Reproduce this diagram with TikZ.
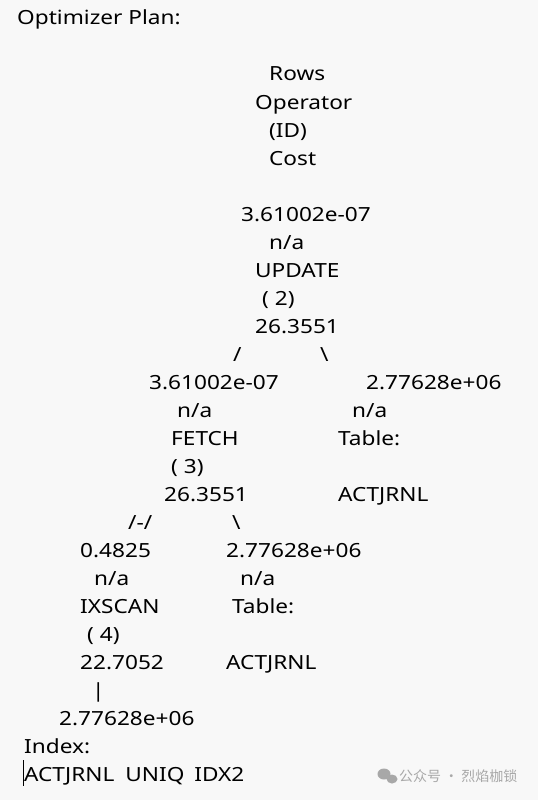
\documentclass[tikz,border=0pt]{standalone}
\usepackage{fontspec}
\setmainfont{Noto Sans}[FakeStretch=1.16]
\newfontfamily\cjk{Noto Sans CJK SC}
\definecolor{bgc}{HTML}{F8F8F8}
\definecolor{wm}{HTML}{A8A8A8}
\begin{document}
\begin{tikzpicture}[x=1pt,y=-1pt,
  t/.style={anchor=base west,inner sep=0pt,font=\fontsize{19.5}{22}\selectfont},
  wmt/.style={anchor=base west,inner sep=0pt,text=wm,font=\cjk\fontsize{14}{16}\selectfont}]
\fill[bgc] (0,0) rectangle (538,800);
\useasboundingbox (0,0) rectangle (538,800);
\node[t] (title) at (17,25) {Optimizer Plan:};
\node[t] (h1) at (269,81) {Rows};
\node[t] (h2) at (255,109) {Operator};
\node[t] (h3) at (269,137) {(ID)};
\node[t] (h4) at (269,165) {Cost};
\node[t] (u1) at (241,221) {3.61002e-07};
\node[t] (u2) at (269,249) {n/a};
\node[t] (u3) at (255,277) {UPDATE};
\node[t] (u4) at (262,305) {( 2)};
\node[t] (u5) at (255,333) {26.3551};
\node[t] (s1) at (233,361) {/};
\node[t] (s2) at (320,361) {\textbackslash};
\node[t] (f1) at (149,389) {3.61002e-07};
\node[t] (f2) at (177,417) {n/a};
\node[t] (f3) at (171,445) {FETCH};
\node[t] (f4) at (171,473) {( 3)};
\node[t] (f5) at (164,501) {26.3551};
\node[t] (a1) at (366,389) {2.77628e+06};
\node[t] (a2) at (352,417) {n/a};
\node[t] (a3) at (338,445) {Table:};
\node[t] (a4) at (338,501) {ACTJRNL};
\node[t] (s3) at (128,529) {/-/};
\node[t] (s4) at (232,529) {\textbackslash};
\node[t] (i1) at (80,557) {0.4825};
\node[t] (i2) at (94,585) {n/a};
\node[t] (i3) at (80,613) {IXSCAN};
\node[t] (i4) at (87,641) {( 4)};
\node[t] (i5) at (80,669) {22.7052};
\node[t] (b1) at (226,557) {2.77628e+06};
\node[t] (b2) at (240,585) {n/a};
\node[t] (b3) at (232,613) {Table:};
\node[t] (b4) at (226,669) {ACTJRNL};
\node[t] (s5) at (92,697) {|};
\node[t] (x1) at (59,725) {2.77628e+06};
\node[t] (x2) at (24,753) {Index:};
\node[t] (x3) at (24,781) {ACTJRNL\hspace{11pt}UNIQ\hspace{10pt}IDX2};
\coordinate (c1) at (23.5,760);
\coordinate (c2) at (23.5,786);
\draw[line width=0.8pt] (c1) -- (c2);
% watermark
\fill[wm] (384,774) ellipse (6.5 and 5.5);
\fill[wm] (392,779) ellipse (5.5 and 4.5);
\node[wmt] (wmark) at (399,781) {公众号 · 烈焰枷锁};
\end{tikzpicture}
\end{document}
